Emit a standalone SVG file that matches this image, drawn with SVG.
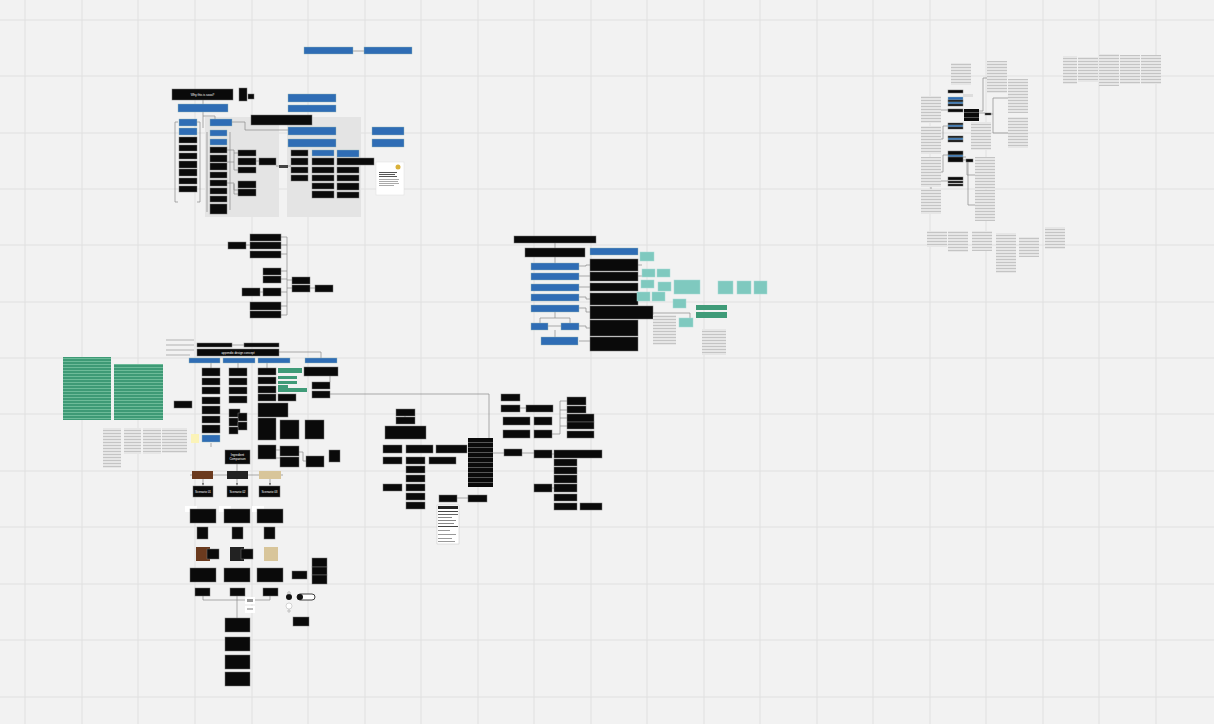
<svg xmlns="http://www.w3.org/2000/svg" width="1214" height="724" viewBox="0 0 1214 724">
<defs>
<pattern id="tx" width="6" height="3" patternUnits="userSpaceOnUse"><rect width="6" height="3" fill="#e6e6e6"/><rect y="1" width="6" height="1" fill="#c4c4c4"/></pattern>
<pattern id="st" width="6" height="5" patternUnits="userSpaceOnUse"><rect width="6" height="5" fill="#0a0a0a"/><rect y="2" width="6" height="1" fill="#555"/></pattern>
<pattern id="gt" width="6" height="3" patternUnits="userSpaceOnUse"><rect width="6" height="3" fill="#3e9a76"/><rect y="1" width="6" height="1" fill="#6dbb99"/></pattern>
<marker id="ar" markerWidth="4" markerHeight="4" refX="3" refY="2" orient="auto"><path d="M0,0 L4,2 L0,4z" fill="#777"/></marker>
</defs>
<style>
.b{fill:#0a0a0a;stroke:#777;stroke-width:.5}
.u{fill:#2f6db5;stroke:#9bb;stroke-width:.4}
.t{fill:#7fc9bf;stroke:#a8dcd5;stroke-width:.5}
.gr{fill:#3f9b78}
.x{fill:url(#tx)}
.s{fill:url(#st)}
.c{fill:none;stroke:#8a8a8a;stroke-width:.7}
.p{fill:#e4e4e4}
.gl{stroke:#e0e0e0;stroke-width:1}
.lb{font-family:"Liberation Sans",Arial,sans-serif;font-size:3px;fill:#fff;text-anchor:middle}
.lw{font-family:"Liberation Sans",Arial,sans-serif;font-size:2.4px;fill:#ddd;text-anchor:middle}
</style>
<rect width="1214" height="724" fill="#f2f2f2"/>
<g id="grid">
<path class="gl" d="M25,0V724M82,0V724M138,0V724M195,0V724M252,0V724M308,0V724M365,0V724M421,0V724M478,0V724M534,0V724M591,0V724M647,0V724M704,0V724M760,0V724M817,0V724M873,0V724M930,0V724M986,0V724M1043,0V724M1099,0V724M1156,0V724M0,20H1214M0,76H1214M0,133H1214M0,189H1214M0,245H1214M0,302H1214M0,358H1214M0,414H1214M0,471H1214M0,527H1214M0,584H1214M0,640H1214M0,697H1214"/>
</g>

<!-- panels -->
<g id="panel1"><rect class="p" x="205" y="117" width="74" height="100"/></g>
<g id="panel2"><rect class="p" x="287" y="117" width="74" height="100"/></g>

<g id="connectors">
<path class="c" d="M353,51H364"/>
<path class="c" d="M203,100V104M203,112V116H215V119M203,116V128"/>
<path class="c" d="M232,122H245V130H288"/>
<path class="c" d="M178,122H175V202H178M197,122H200V202H197"/>
<path class="c" d="M207,132V212M230,132V210"/>
<path class="c" d="M227,150H234V153H238M234,153V170H238M227,162H234M227,183H234V190H238M234,184V194H238"/>
<path class="c" d="M256,161H259M276,166H279M288,166H291"/>
<path class="c" d="M246,245H250M281,237H287V315H281M281,245H287M281,254H287M281,271H287M281,279H287M281,292H287M281,306H287M287,280H292M287,288H292M310,288H315M260,292H263"/>
<path class="c" d="M555,243V248M555,257V263"/>
<path class="c" d="M579,266H586V265H590M579,276H590M579,287H590M579,297H586V299H590M579,308H586V312H590"/>
<path class="c" d="M555,312V318M540,318H570V323M540,318V323M548,326H561M555,330V337M579,341H590M579,326H586V328H590"/>
<path class="c" d="M638,265H642M638,276H642M653,313H690V318"/>
<path class="c" d="M232,345H244M279,352H321V358"/>
<path class="c" d="M211,363V368M211,443V447M238,363V368M267,363V368"/>
<path class="c" d="M313,394H489V438"/>
<path class="c" d="M330,376V382"/>
<path class="c" d="M276,450H280M299,452H303V461H306M276,458H280"/>
<path class="c" d="M190,475H283M237,464V471"/>
<path class="c" d="M203,479V485" marker-end="url(#ar)"/>
<path class="c" d="M237,479V485" marker-end="url(#ar)"/>
<path class="c" d="M270,479V485" marker-end="url(#ar)"/>
<path class="c" d="M203,596V600H270V596M237,596V600M237,600V618"/>
<path class="c" d="M493,453H504M522,453H534M552,454H554"/>
<path class="c" d="M457,498H468"/>
<path class="c" d="M520,408H526M552,434H560V401H567M560,410H567M560,418H567M560,426H567"/>
<path class="c" d="M552,488H554M405,411V417"/>
<path class="c" d="M979,113H985M973,111H983V78H987M991,114H993V98H1008M993,114V133H1008"/>
<path class="c" d="M941,110H948M941,139H943V126H948M941,172H943V155H948M963,157H966M963,160H967V175H975M970,161H968V205H975M931,189V181H948"/>
</g>

<!-- cluster A -->
<g id="a1"><rect class="u" x="304" y="47" width="49" height="7"/></g>
<g id="a2"><rect class="u" x="364" y="47" width="48" height="7"/></g>
<g id="a3"><rect class="b" x="172" y="89" width="61" height="11"/><text class="lb" x="202.5" y="95.5">Why this is sooo?</text></g>
<g id="a4"><rect class="b" x="239" y="88" width="8" height="13"/><rect class="b" x="248" y="94" width="6" height="5"/></g>
<g id="a5"><rect class="u" x="178" y="104" width="50" height="8"/></g>
<g id="a6"><rect class="b" x="251" y="115" width="61" height="10"/></g>
<g id="a7"><rect class="u" x="288" y="94" width="48" height="8"/><rect class="u" x="288" y="105" width="48" height="7"/><rect class="u" x="288" y="127" width="48" height="8"/><rect class="u" x="288" y="139" width="48" height="8"/></g>
<g id="a8"><rect class="u" x="372" y="127" width="32" height="8"/><rect class="u" x="372" y="139" width="32" height="8"/></g>
<g id="a9">
<rect class="u" x="179" y="119" width="18" height="7"/><rect class="u" x="179" y="128" width="18" height="7"/>
<rect class="b" x="179" y="137" width="18" height="6"/><rect class="b" x="179" y="145" width="18" height="6"/><rect class="b" x="179" y="153" width="18" height="6"/><rect class="b" x="179" y="161" width="18" height="7"/><rect class="b" x="179" y="169" width="18" height="7"/><rect class="b" x="179" y="178" width="18" height="6"/><rect class="b" x="179" y="186" width="18" height="6"/>
</g>
<g id="a10">
<rect class="u" x="210" y="119" width="22" height="7"/><rect class="u" x="210" y="130" width="17" height="6"/><rect class="u" x="210" y="139" width="17" height="6"/>
<rect class="b" x="210" y="147" width="17" height="6"/><rect class="b" x="210" y="155" width="17" height="7"/><rect class="b" x="210" y="163" width="17" height="7"/><rect class="b" x="210" y="172" width="17" height="6"/><rect class="b" x="210" y="180" width="17" height="6"/><rect class="b" x="210" y="188" width="17" height="6"/><rect class="b" x="210" y="196" width="17" height="6"/><rect class="b" x="210" y="204" width="17" height="10"/>
</g>
<g id="a11"><rect class="b" x="238" y="150" width="18" height="6"/><rect class="b" x="238" y="158" width="18" height="7"/><rect class="b" x="238" y="167" width="18" height="6"/><rect class="b" x="238" y="181" width="18" height="7"/><rect class="b" x="238" y="189" width="18" height="7"/></g>
<g id="a12"><rect class="b" x="259" y="158" width="17" height="7"/></g>
<g id="a13"><rect fill="#444" x="279" y="165" width="9" height="3"/></g>
<g id="a14"><rect class="b" x="291" y="150" width="17" height="6"/><rect class="b" x="291" y="158" width="17" height="7"/><rect class="b" x="291" y="167" width="17" height="6"/><rect class="b" x="291" y="175" width="17" height="6"/></g>
<g id="a15"><rect class="u" x="312" y="150" width="22" height="6"/><rect class="b" x="312" y="158" width="22" height="7"/><rect class="b" x="312" y="167" width="22" height="6"/><rect class="b" x="312" y="175" width="22" height="6"/><rect class="b" x="312" y="183" width="22" height="6"/><rect class="b" x="312" y="191" width="22" height="7"/></g>
<g id="a16"><rect class="u" x="337" y="150" width="22" height="7"/><rect class="b" x="337" y="158" width="37" height="7"/><rect class="b" x="337" y="167" width="22" height="6"/><rect class="b" x="337" y="175" width="22" height="6"/><rect class="b" x="337" y="183" width="22" height="7"/><rect class="b" x="337" y="192" width="22" height="6"/></g>
<g id="a17"><rect fill="#fff" stroke="#ddd" stroke-width=".5" x="376" y="162" width="28" height="33"/><circle cx="398" cy="167" r="2.5" fill="#d9b13a"/><rect x="379" y="172" width="18" height="1" fill="#555"/><rect x="379" y="174" width="16" height="1" fill="#555"/><rect x="379" y="176" width="18" height="1" fill="#555"/><rect x="379" y="179" width="20" height="1" fill="#aaa"/><rect x="379" y="181" width="19" height="1" fill="#aaa"/><rect x="379" y="183" width="20" height="1" fill="#aaa"/><rect x="379" y="185" width="15" height="1" fill="#aaa"/></g>

<!-- cluster B -->
<g id="b1"><rect class="b" x="228" y="242" width="18" height="7"/></g>
<g id="b2"><rect class="b" x="250" y="234" width="31" height="7"/><rect class="b" x="250" y="242" width="31" height="7"/><rect class="b" x="250" y="251" width="31" height="7"/></g>
<g id="b3"><rect class="b" x="263" y="268" width="18" height="7"/><rect class="b" x="263" y="276" width="18" height="7"/><rect class="b" x="263" y="288" width="18" height="8"/><rect class="b" x="242" y="288" width="18" height="8"/></g>
<g id="b4"><rect class="b" x="250" y="302" width="31" height="8"/><rect class="b" x="250" y="311" width="31" height="7"/></g>
<g id="b5"><rect class="b" x="292" y="277" width="18" height="7"/><rect class="b" x="292" y="285" width="18" height="7"/><rect class="b" x="315" y="285" width="18" height="7"/></g>

<!-- cluster C -->
<g id="c1"><rect class="b" x="514" y="236" width="82" height="7"/></g>
<g id="c2"><rect class="b" x="525" y="248" width="60" height="9"/></g>
<g id="c3"><rect class="u" x="590" y="248" width="48" height="7"/></g>
<g id="c4"><rect class="u" x="531" y="263" width="48" height="7"/><rect class="u" x="531" y="273" width="48" height="7"/><rect class="u" x="531" y="284" width="48" height="7"/><rect class="u" x="531" y="294" width="48" height="7"/><rect class="u" x="531" y="305" width="48" height="7"/></g>
<g id="c5"><rect class="u" x="531" y="323" width="17" height="7"/><rect class="u" x="561" y="323" width="18" height="7"/><rect class="u" x="541" y="337" width="37" height="8"/></g>
<g id="c6"><rect class="b" fill="#1a1a1a" x="590" y="259" width="48" height="12"/><rect class="b" x="590" y="272" width="48" height="9"/><rect class="b" x="590" y="283" width="48" height="8"/><rect class="b" x="590" y="293" width="48" height="12"/><rect class="b" x="590" y="306" width="63" height="13"/><rect class="b" x="590" y="320" width="48" height="16"/><rect class="b" x="590" y="337" width="48" height="14"/></g>
<g id="c7"><rect class="t" x="640" y="252" width="14" height="9"/><rect class="t" x="642" y="269" width="13" height="8"/><rect class="t" x="657" y="269" width="13" height="8"/><rect class="t" x="641" y="280" width="13" height="8"/><rect class="t" x="658" y="282" width="13" height="9"/><rect class="t" x="637" y="292" width="13" height="9"/><rect class="t" x="652" y="292" width="13" height="9"/><rect class="t" x="673" y="299" width="13" height="9"/><rect class="t" x="679" y="318" width="14" height="9"/></g>
<g id="c8"><rect class="t" x="674" y="280" width="26" height="14"/><rect class="t" x="718" y="281" width="15" height="13"/><rect class="t" x="737" y="281" width="14" height="13"/><rect class="t" x="754" y="281" width="13" height="13"/></g>
<g id="c9"><rect class="gr" x="696" y="305" width="31" height="5"/><rect class="gr" x="696" y="312" width="31" height="6"/></g>
<g id="c10"><rect class="x" x="653" y="315" width="23" height="30"/><rect class="x" x="702" y="329" width="24" height="26"/></g>

<!-- cluster D -->
<g id="d0"><rect fill="#d2d2d2" x="166" y="339" width="28" height="2"/><rect fill="#d2d2d2" x="166" y="344" width="28" height="2"/><rect fill="#d2d2d2" x="166" y="349" width="28" height="2"/><rect fill="#d2d2d2" x="166" y="354" width="24" height="2"/></g>
<g id="d1"><rect class="b" x="197" y="343" width="35" height="4"/><rect class="b" x="244" y="343" width="35" height="4"/></g>
<g id="d2"><rect class="b" x="197" y="349" width="82" height="7"/><text class="lb" x="238" y="353.8" font-size="3">appendix design concept</text></g>
<g id="d3"><rect class="u" x="189" y="358" width="31" height="5"/><rect class="u" x="223" y="358" width="32" height="5"/><rect class="u" x="258" y="358" width="32" height="5"/><rect class="u" x="305" y="358" width="32" height="5"/></g>
<g id="d4"><rect fill="url(#gt)" x="63" y="357" width="48" height="63"/><rect fill="url(#gt)" x="114" y="364" width="49" height="56"/></g>
<g id="d5"><rect class="b" x="174" y="401" width="18" height="7"/></g>
<g id="d6"><rect class="b" x="202" y="368" width="18" height="8"/><rect class="b" x="202" y="378" width="18" height="7"/><rect class="b" x="202" y="387" width="18" height="7"/><rect class="b" x="202" y="397" width="18" height="7"/><rect class="b" x="202" y="406" width="18" height="8"/><rect class="b" x="202" y="416" width="18" height="7"/><rect class="b" x="202" y="425" width="18" height="8"/><rect class="u" x="202" y="435" width="18" height="7"/><rect fill="#fbf3b8" x="191" y="434" width="8" height="9"/></g>
<g id="d7"><rect class="b" x="229" y="368" width="18" height="8"/><rect class="b" x="229" y="378" width="18" height="7"/><rect class="b" x="229" y="387" width="18" height="7"/><rect class="b" x="229" y="396" width="18" height="7"/><rect class="b" x="229" y="409" width="11" height="8"/><rect class="b" x="238" y="413" width="9" height="8"/><rect class="b" x="229" y="418" width="9" height="8"/><rect class="b" x="238" y="422" width="9" height="8"/><rect class="b" x="229" y="427" width="9" height="7"/></g>
<g id="d8"><rect class="b" x="258" y="368" width="18" height="7"/><rect class="b" x="258" y="377" width="18" height="7"/><rect class="b" x="258" y="386" width="18" height="7"/><rect class="b" x="258" y="394" width="18" height="7"/></g>
<g id="d9"><rect class="gr" x="278" y="368" width="24" height="5"/><rect class="gr" x="278" y="376" width="19" height="3"/><rect class="gr" x="278" y="381" width="19" height="3"/><rect class="gr" x="278" y="385" width="10" height="3"/><rect class="gr" x="278" y="388" width="29" height="4"/><rect class="b" x="278" y="394" width="18" height="7"/></g>
<g id="d10"><rect class="b" x="258" y="403" width="30" height="14"/><rect class="b" x="258" y="418" width="18" height="22"/><rect class="b" x="280" y="420" width="19" height="19"/><rect class="b" x="305" y="420" width="19" height="19"/></g>
<g id="d11"><rect class="b" x="304" y="367" width="34" height="9"/><rect class="b" x="312" y="382" width="18" height="7"/><rect class="b" x="312" y="391" width="18" height="7"/></g>
<g id="d12"><rect class="b" x="258" y="445" width="18" height="14"/><rect class="b" x="280" y="446" width="19" height="10"/><rect class="b" x="280" y="457" width="19" height="10"/><rect class="b" x="306" y="456" width="18" height="11"/><rect class="b" x="329" y="450" width="11" height="12"/></g>
<g id="d13"><rect class="x" x="103" y="428" width="18" height="40"/><rect class="x" x="124" y="428" width="17" height="26"/><rect class="x" x="143" y="428" width="18" height="26"/><rect class="x" x="162" y="428" width="25" height="25"/></g>

<!-- cluster E -->
<g id="e1"><rect class="b" x="225" y="450" width="25" height="14"/><text class="lb" x="237.5" y="456" font-size="2.6">Ingredient</text><text class="lb" x="237.5" y="460" font-size="2.6">Comparison</text></g>
<g id="e2"><rect fill="#6b3a1e" x="192" y="471" width="21" height="8"/><rect fill="#222" x="227" y="471" width="21" height="8"/><rect fill="#d8c59a" x="259" y="471" width="22" height="8"/></g>
<g id="e3"><rect class="b" x="193" y="486" width="20" height="11"/><text class="lb" x="203" y="492.5">Scenario 01</text></g>
<g id="e4"><rect class="b" x="227" y="486" width="21" height="11"/><text class="lb" x="237.5" y="492.5">Scenario 02</text></g>
<g id="e5"><rect class="b" x="259" y="486" width="21" height="11"/><text class="lb" x="269.5" y="492.5">Scenario 03</text></g>
<g id="e6"><rect fill="#fff" x="185" y="506" width="12" height="6"/><rect class="b" x="190" y="509" width="26" height="14"/><rect fill="#fff" x="219" y="506" width="12" height="6"/><rect class="b" x="224" y="509" width="26" height="14"/><rect fill="#fff" x="252" y="506" width="12" height="6"/><rect class="b" x="257" y="509" width="26" height="14"/></g>
<g id="e7"><rect class="b" x="197" y="527" width="11" height="12"/><rect class="b" x="232" y="527" width="11" height="12"/><rect class="b" x="264" y="527" width="11" height="12"/></g>
<g id="e8"><rect fill="#6b3a1e" x="196" y="547" width="14" height="14"/><rect class="b" x="207" y="549" width="12" height="10"/><rect fill="#222" x="230" y="547" width="14" height="14"/><rect class="b" x="241" y="549" width="12" height="10"/><rect fill="#d8c59a" x="264" y="547" width="14" height="14"/></g>
<g id="e9"><rect class="b" x="190" y="568" width="26" height="14"/><rect class="b" x="224" y="568" width="26" height="14"/><rect class="b" x="257" y="568" width="26" height="14"/></g>
<g id="e10"><rect class="b" x="195" y="588" width="15" height="8"/><rect class="b" x="230" y="588" width="15" height="8"/><rect class="b" x="263" y="588" width="15" height="8"/></g>
<g id="e11"><rect fill="#fff" x="245" y="597" width="10" height="7"/><rect fill="#999" x="247" y="599" width="6" height="3"/><rect fill="#fff" x="245" y="606" width="10" height="7"/><rect fill="#bbb" x="247" y="608" width="6" height="2"/></g>
<g id="e12"><rect class="b" x="225" y="618" width="25" height="14"/><rect class="b" x="225" y="637" width="25" height="14"/><rect class="b" x="225" y="655" width="25" height="14"/><rect class="b" x="225" y="672" width="25" height="14"/></g>
<g id="e13"><rect class="b" x="312" y="558" width="15" height="9"/><rect class="b" x="312" y="567" width="15" height="8"/><rect class="b" x="312" y="575" width="15" height="9"/><rect class="b" x="292" y="571" width="15" height="8"/></g>
<g id="e14"><circle cx="289" cy="597" r="3" fill="#111"/><circle cx="289" cy="593" r="1.3" fill="none" stroke="#777" stroke-width=".4"/><circle cx="289" cy="606" r="3" fill="#fff" stroke="#999" stroke-width=".4"/><circle cx="289" cy="611" r="1.2" fill="none" stroke="#777" stroke-width=".4"/><rect x="297" y="594" width="18" height="6" rx="3" fill="#fff" stroke="#111" stroke-width=".8"/><circle cx="300" cy="597" r="3" fill="#111"/><rect class="b" x="293" y="617" width="16" height="9"/></g>

<!-- cluster F -->
<g id="f1"><rect class="b" x="501" y="394" width="19" height="7"/><rect class="b" x="501" y="405" width="19" height="7"/><rect class="b" x="526" y="405" width="27" height="7"/><rect class="b" x="503" y="417" width="27" height="8"/><rect class="b" x="534" y="417" width="18" height="8"/><rect class="b" x="503" y="430" width="27" height="8"/><rect class="b" x="534" y="430" width="18" height="8"/></g>
<g id="f2"><rect class="b" x="567" y="397" width="19" height="8"/><rect class="b" x="567" y="406" width="19" height="7"/><rect class="b" x="567" y="414" width="27" height="8"/><rect class="b" x="567" y="422" width="27" height="7"/><rect class="b" x="567" y="431" width="27" height="7"/></g>
<g id="f3"><rect class="b" x="396" y="409" width="19" height="7"/><rect class="b" x="396" y="417" width="19" height="7"/><rect class="b" x="385" y="426" width="41" height="13"/></g>
<g id="f4"><rect class="b" x="383" y="445" width="19" height="8"/><rect class="b" x="406" y="445" width="27" height="8"/><rect class="b" x="436" y="445" width="31" height="8"/><rect class="b" x="383" y="457" width="19" height="7"/><rect class="b" x="406" y="457" width="19" height="7"/><rect class="b" x="429" y="457" width="27" height="7"/><rect class="b" x="383" y="484" width="19" height="7"/></g>
<g id="f5"><rect class="b" x="406" y="466" width="19" height="7"/><rect class="b" x="406" y="475" width="19" height="7"/><rect class="b" x="406" y="484" width="19" height="7"/><rect class="b" x="406" y="493" width="19" height="7"/><rect class="b" x="406" y="502" width="19" height="7"/></g>
<g id="f6"><rect class="s" x="468" y="438" width="25" height="49"/></g>
<g id="f7"><rect class="b" x="504" y="449" width="18" height="7"/><rect class="b" x="534" y="450" width="18" height="8"/><rect class="b" x="554" y="450" width="48" height="8"/><rect class="b" x="554" y="459" width="23" height="7"/><rect class="b" x="554" y="467" width="23" height="7"/><rect class="b" x="554" y="475" width="23" height="8"/><rect class="b" x="534" y="484" width="18" height="8"/><rect class="b" x="554" y="484" width="23" height="8"/><rect class="b" x="554" y="494" width="23" height="7"/><rect class="b" x="554" y="503" width="23" height="7"/><rect class="b" x="580" y="503" width="22" height="7"/></g>
<g id="f8"><rect class="b" x="439" y="495" width="18" height="7"/><rect class="b" x="468" y="495" width="19" height="7"/></g>
<g id="f9"><rect fill="#fff" stroke="#bbb" stroke-width=".4" x="437" y="505" width="22" height="39"/><rect x="438" y="506" width="20" height="3" fill="#222"/><rect x="438" y="511" width="20" height="1" fill="#444"/><rect x="438" y="514" width="20" height="1" fill="#666"/><rect x="438" y="517" width="14" height="1" fill="#888"/><rect x="438" y="520" width="18" height="1" fill="#888"/><rect x="438" y="523" width="16" height="1" fill="#888"/><rect x="438" y="526" width="20" height="1" fill="#444"/><rect x="438" y="530" width="12" height="1" fill="#999"/><rect x="438" y="534" width="18" height="1" fill="#999"/><rect x="438" y="538" width="14" height="1" fill="#999"/><rect x="438" y="541" width="17" height="1" fill="#999"/></g>

<!-- cluster G -->
<g id="g1"><rect class="x" x="951" y="63" width="20" height="22"/><rect class="x" x="987" y="61" width="20" height="32"/><rect class="x" x="1008" y="79" width="20" height="34"/><rect class="x" x="1008" y="117" width="20" height="31"/></g>
<g id="g2"><rect class="x" x="921" y="96" width="20" height="27"/><rect class="x" x="921" y="126" width="20" height="28"/><rect class="x" x="921" y="157" width="20" height="30"/><rect class="x" x="921" y="189" width="20" height="25"/></g>
<g id="g3"><rect class="x" x="971" y="122" width="20" height="28"/><rect class="x" x="975" y="157" width="20" height="32"/><rect class="x" x="975" y="190" width="20" height="31"/></g>
<g id="g4"><rect class="b" x="948" y="90" width="15" height="3"/><rect class="u" x="948" y="97" width="15" height="3"/><rect class="b" x="948" y="100" width="15" height="2"/><rect class="u" x="948" y="102" width="15" height="2"/><rect class="b" x="948" y="104" width="15" height="2"/><rect class="b" x="948" y="109" width="15" height="3"/><rect fill="#ddd" x="963" y="94" width="10" height="3"/></g>
<g id="g5"><rect class="b" x="948" y="123" width="15" height="2"/><rect class="u" x="948" y="125" width="15" height="2"/><rect class="b" x="948" y="127" width="15" height="2"/><rect class="b" x="948" y="136" width="15" height="2"/><rect class="u" x="948" y="138" width="15" height="2"/><rect class="b" x="948" y="140" width="15" height="2"/></g>
<g id="g6"><rect class="b" x="948" y="151" width="15" height="4"/><rect class="u" x="948" y="155" width="15" height="2"/><rect class="b" x="948" y="157" width="15" height="5"/><rect class="b" x="948" y="177" width="15" height="3"/><rect class="b" x="948" y="181" width="15" height="2"/><rect class="b" x="948" y="184" width="15" height="2"/></g>
<g id="g7"><rect class="s" x="964" y="109" width="15" height="12"/><rect class="b" x="985" y="113" width="6" height="2"/><rect class="b" x="966" y="159" width="7" height="3"/></g>
<g id="g8"><rect class="x" x="1063" y="56" width="14" height="28"/><rect class="x" x="1078" y="57" width="20" height="25"/><rect class="x" x="1099" y="54" width="20" height="32"/><rect class="x" x="1120" y="55" width="20" height="29"/><rect class="x" x="1141" y="55" width="20" height="29"/></g>
<g id="g9"><rect class="x" x="927" y="231" width="20" height="16"/><rect class="x" x="948" y="231" width="20" height="21"/><rect class="x" x="972" y="231" width="20" height="20"/><rect class="x" x="996" y="233" width="20" height="40"/><rect class="x" x="1019" y="237" width="20" height="20"/><rect class="x" x="1045" y="227" width="20" height="22"/></g>
</svg>
